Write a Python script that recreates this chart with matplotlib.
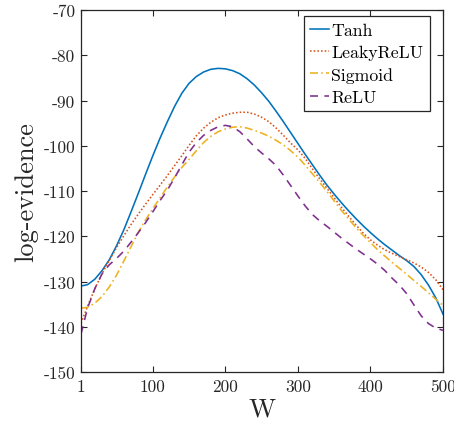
import matplotlib
matplotlib.use("Agg")
import matplotlib.pyplot as plt

# data (W = 1, 10, 20, ..., 500)
W = [1] + list(range(10, 501, 10))

tanh = [-131.0, -130.7, -129.5, -127.6, -125.2, -122.1, -118.6, -114.6,
        -110.5, -106.3, -102.2, -98.3, -94.7, -91.3, -88.4, -86.2, -84.7,
        -83.7, -83.1, -82.9, -83.0, -83.4, -84.1, -85.2, -86.6, -88.3,
        -90.2, -92.4, -94.7, -97.1, -99.5, -101.9, -104.2, -106.5, -108.7,
        -110.7, -112.6, -114.4, -116.1, -117.7, -119.2, -120.6, -121.9,
        -123.1, -124.3, -125.4, -126.7, -128.5, -130.8, -133.6, -137.2]

leaky_relu = [-139.2, -135.5, -131.6, -128.3, -125.3, -122.5, -119.9,
              -117.4, -115.1, -112.9, -110.8, -108.7, -106.6, -104.4,
              -102.2, -99.9, -97.8, -96.1, -94.8, -93.8, -93.2, -92.8,
              -92.6, -92.6, -93.0, -93.7, -94.7, -96.1, -97.7, -99.4,
              -100.9, -102.8, -105.1, -107.3, -109.4, -111.5, -113.6,
              -115.6, -117.5, -119.3, -120.8, -122.0, -123.0, -123.8,
              -124.5, -125.2, -125.9, -126.8, -128.0, -129.6, -131.8]

sigmoid = [-135.9, -135.7, -134.8, -133.3, -131.2, -128.6, -125.5, -122.3,
           -119.1, -116.4, -113.9, -111.5, -109.1, -106.9, -104.8, -103.0,
           -101.1, -99.3, -97.9, -96.9, -96.3, -95.9, -95.8, -96.1, -96.6,
           -97.2, -97.9, -98.8, -99.8, -101.1, -102.5, -104.3, -106.2,
           -108.1, -110.1, -112.2, -114.3, -116.2, -118.1, -119.8, -121.4,
           -123.0, -124.4, -125.8, -127.1, -128.4, -129.8, -131.1, -132.5,
           -133.9, -135.3]

relu = [-141.6, -135.9, -131.6, -128.3, -126.3, -124.9, -123.3, -121.3,
        -119.2, -117.0, -114.6, -112.1, -109.8, -107.1, -104.2, -101.4,
        -99.3, -97.7, -96.6, -95.8, -95.5, -95.8, -96.9, -98.5, -100.2,
        -101.6, -102.9, -104.4, -106.5, -108.8, -111.1, -113.3, -115.2,
        -116.6, -117.8, -119.1, -120.4, -121.6, -122.8, -123.9, -125.0,
        -126.2, -127.6, -129.3, -130.8, -132.7, -135.2, -137.6, -139.3,
        -140.3, -140.8]

labels = ["Tanh", "LeakyReLU", "Sigmoid", "ReLU"]
xticks = [1, 100, 200, 300, 400, 500]
yticks = [-150, -140, -130, -120, -110, -100, -90, -80, -70]

plt.rcParams["font.family"] = ["cmr10", "DejaVu Serif"]
plt.rcParams["axes.unicode_minus"] = False
plt.rcParams["mathtext.fontset"] = "cm"

dark = "#262626"

fig = plt.figure(figsize=(4.54, 4.27), dpi=100)
ax = fig.add_axes([81 / 454, 54 / 427, 362 / 454, 362 / 427])

ax.plot(W, tanh, color="#0072BD", lw=1.15, ls="-", label=labels[0])
ax.plot(W, leaky_relu, color="#D95319", lw=1.15, ls=(0, (1, 1.3)), label=labels[1])
ax.plot(W, sigmoid, color="#EDB120", lw=1.15, ls=(0, (5, 2, 1, 2)), label=labels[2])
ax.plot(W, relu, color="#7E2F8E", lw=1.15, ls=(0, (5, 4)), label=labels[3])

ax.set_xlim(1, 500)
ax.set_ylim(-150, -70)
ax.set_xticks(xticks)
ax.set_yticks(yticks)

ax.tick_params(direction="in", length=4, width=0.8, colors=dark,
               labelsize=12.5, top=True, right=True)
ax.tick_params(axis="x", pad=5)
ax.tick_params(axis="y", pad=4)
for s in ax.spines.values():
    s.set_color(dark)
    s.set_linewidth(0.9)

ax.set_xlabel("W", fontsize=19, color=dark, labelpad=2)
ax.set_ylabel("log-evidence", fontsize=19, color=dark, labelpad=4)

leg = ax.legend(loc="upper right", bbox_to_anchor=(0.963, 0.983), fontsize=12.8,
                fancybox=False, framealpha=1, edgecolor=dark, handlelength=1.05,
                handletextpad=0.15, labelspacing=0.38, borderpad=0.35,
                borderaxespad=0)
leg.get_frame().set_linewidth(0.9)

fig.savefig("out.png", dpi=100)
